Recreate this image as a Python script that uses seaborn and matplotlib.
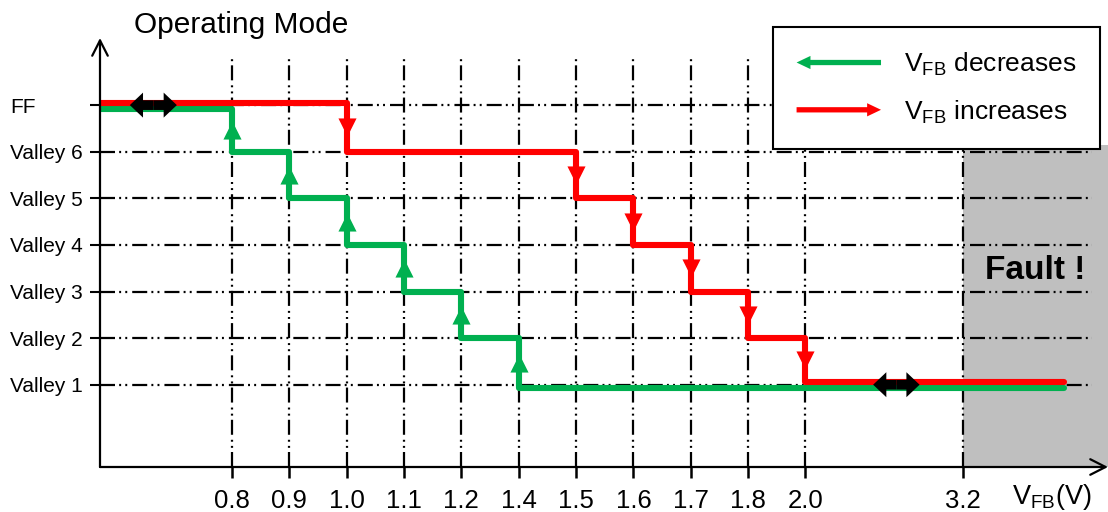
import numpy as np
import pandas as pd
import matplotlib
matplotlib.use("Agg")
import matplotlib.pyplot as plt
import matplotlib.patches as mpatches
from matplotlib.legend_handler import HandlerPatch
import seaborn as sns

# ---- data ----
modes = ['Valley 1', 'Valley 2', 'Valley 3', 'Valley 4', 'Valley 5', 'Valley 6', 'FF']
vfb_ticks = ['0.8', '0.9', '1.0', '1.1', '1.2', '1.4', '1.5', '1.6', '1.7', '1.8', '2.0', '3.2']
# VFB thresholds where the mode moves one step (reading left to right)
dec_steps = ['0.8', '0.9', '1.0', '1.1', '1.2', '1.4']   # VFB decreases (green)
inc_steps = ['1.0', '1.5', '1.6', '1.7', '1.8', '2.0']   # VFB increases (red)
mode_after = [6, 5, 4, 3, 2, 1, 0, 0]                    # FF ... Valley 1

# axis is not linear: slot index per tick, 3.2 sits after a gap
tick_slots = [0, 1, 2, 3, 4, 5, 6, 7, 8, 9, 10, 12.75]
slot = dict(zip(vfb_ticks, tick_slots))
X_MIN, X_MAX = -2.30, 15.275
Y_MIN, Y_MAX = -1.766, 7.44
LINE_END = 14.51

GREEN = '#00B050'
RED = '#FF0000'
GRAY = '#BFBFBF'

sns.set_style('white')
plt.rcParams['font.family'] = ['Liberation Sans', 'DejaVu Sans']
plt.rcParams['lines.scale_dashes'] = False
plt.rcParams['text.color'] = 'black'
plt.rcParams['xtick.color'] = 'black'
plt.rcParams['ytick.color'] = 'black'

fig = plt.figure(figsize=(11.08, 5.12), dpi=100)
ax = fig.add_axes([100 / 1108, 45 / 512, 1008 / 1108, 429 / 512])
ax.set_xlim(X_MIN, X_MAX)
ax.set_ylim(Y_MIN, Y_MAX)
for s in ax.spines.values():
    s.set_visible(False)

# fault zone
fault_top = 5.14
ax.axvspan(slot['3.2'], X_MAX, ymin=0, ymax=(fault_top - Y_MIN) / (Y_MAX - Y_MIN),
           color=GRAY, lw=0, zorder=0)

# dash-dot-dot grid
grid_ls = (0, (10.8, 3.0, 1.4, 3.0, 1.4, 3.6))
ax.hlines(range(len(modes)), X_MIN, 15.0, colors='black', lw=1.6, linestyles=[grid_ls], zorder=1)
ax.vlines(tick_slots, Y_MIN, 7.0, colors='black', lw=1.6, linestyles=[grid_ls], zorder=1)


def step_frame(steps, offset):
    x = [X_MIN] + [slot[v] for v in steps] + [LINE_END]
    y = np.array(mode_after, dtype=float)
    y = y + np.where(np.isin(y, [0, 6]), offset, 0)
    return pd.DataFrame({'x': x, 'y': y})


green = step_frame(dec_steps, -0.08)
red = step_frame(inc_steps, 0.05)

sns.lineplot(data=green, x='x', y='y', ax=ax, color=GREEN, lw=4.4, estimator=None,
             sort=False, drawstyle='steps-post', zorder=3)
sns.lineplot(data=red, x='x', y='y', ax=ax, color=RED, lw=4.4, estimator=None,
             sort=False, drawstyle='steps-post', zorder=4)

# arrow heads on the vertical segments
def heads(df):
    xs = df['x'].values[1:-1]
    ys = (df['y'].values[:-2] + df['y'].values[1:-1]) / 2
    return pd.DataFrame({'x': xs, 'y': ys})

sns.scatterplot(data=heads(green), x='x', y='y', ax=ax, marker='^', s=170,
                color=GREEN, linewidth=0, zorder=5)
sns.scatterplot(data=heads(red), x='x', y='y', ax=ax, marker='v', s=170,
                color=RED, linewidth=0, zorder=5)
ax.set_xlabel('')
ax.set_ylabel('')

# hysteresis double arrows
hyst = [(-1.78, -0.96, 6.0), (11.18, 11.99, 0.0)]
astyle = 'simple,head_length=0.38,head_width=0.72,tail_width=0.28'
for x0, x1, yy in hyst:
    xm = (x0 + x1) / 2
    for xe in (x0, x1):
        ax.annotate('', xy=(xe, yy), xytext=(xm, yy),
                    arrowprops=dict(arrowstyle=astyle, mutation_scale=25, color='black',
                                    lw=0, shrinkA=0, shrinkB=0), zorder=6)

# axes with arrows
arr = dict(arrowstyle='->,head_length=0.55,head_width=0.28', mutation_scale=20,
           lw=1.6, color='black', shrinkA=0, shrinkB=0)
ax.annotate('', xy=(0, 1), xytext=(0, 0), xycoords='axes fraction', arrowprops=arr,
            annotation_clip=False, zorder=7)
ax.annotate('', xy=(1, 0), xytext=(0, 0), xycoords='axes fraction', arrowprops=arr,
            annotation_clip=False, zorder=7)

# ticks
ax.set_yticks(range(len(modes)))
ax.set_yticklabels(modes, fontsize=15)
ax.tick_params(axis='y', left=True, direction='out', length=7.2, width=1.5, pad=57.6)
for lab in ax.get_yticklabels():
    lab.set_ha('left')
ax.set_xticks(tick_slots)
ax.set_xticklabels(vfb_ticks, fontsize=18.5)
ax.tick_params(axis='x', bottom=True, direction='out', length=8, width=1.8, pad=8)

ax.text((slot['3.2'] + X_MAX) / 2, 2.46, 'Fault !', fontsize=24, fontweight='bold',
        ha='center', va='center', zorder=6)

fig.text(134 / 1108, 1 - 33 / 512, 'Operating Mode', fontsize=21.5, va='baseline')
fig.text(1052 / 1108, 1 - 504 / 512, r'V$_{\mathregular{FB}}$(V)', fontsize=19.5,
         ha='center', va='baseline')

# legend with arrow handles
def arrow_patch(direction):
    def make(legend, orig_handle, xdescent, ydescent, width, height, fontsize):
        y = height / 2 - ydescent
        x0 = -xdescent if direction > 0 else width - xdescent
        return mpatches.FancyArrow(x0, y, direction * width, 0, width=3.8,
                                   head_width=9.5, head_length=10,
                                   length_includes_head=True)
    return make

h_dec = mpatches.Patch(color=GREEN, lw=0)
h_inc = mpatches.Patch(color=RED, lw=0)
leg = fig.legend([h_dec, h_inc],
                 [r'V$_{\mathregular{FB}}$ decreases', r'V$_{\mathregular{FB}}$ increases'],
                 handler_map={h_dec: HandlerPatch(patch_func=arrow_patch(-1)),
                              h_inc: HandlerPatch(patch_func=arrow_patch(1))},
                 loc='upper right', bbox_to_anchor=(1100 / 1108, 1 - 27 / 512),
                 bbox_transform=fig.transFigure, borderaxespad=0, fontsize=19,
                 handlelength=3.2, handletextpad=0.87, labelspacing=0.75,
                 borderpad=0.9, fancybox=False, framealpha=1, edgecolor='black')
leg.get_frame().set_linewidth(1.5)
leg.set_zorder(10)

fig.savefig('out.png', dpi=100)
